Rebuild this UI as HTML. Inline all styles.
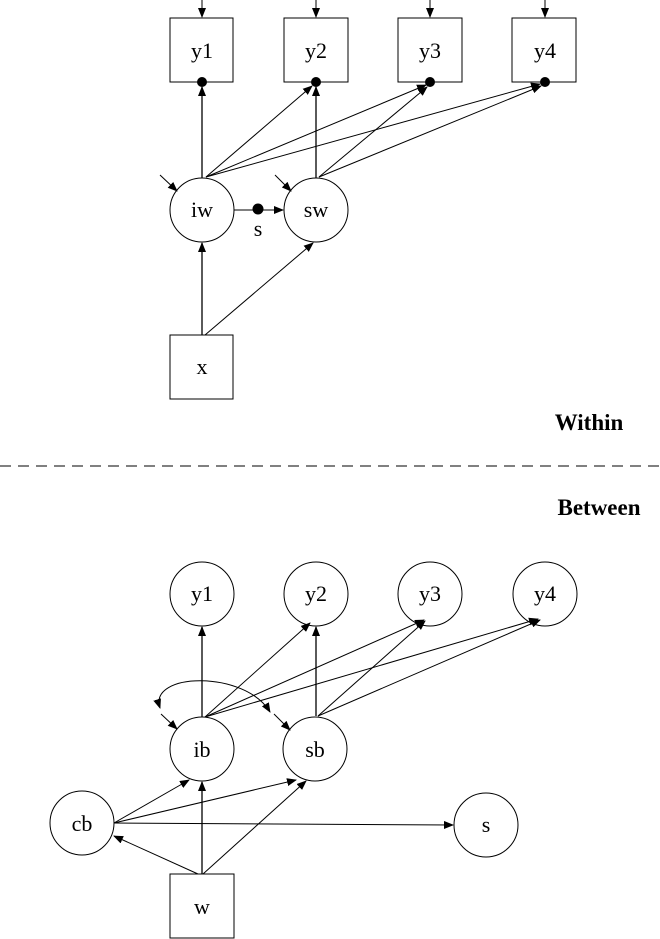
<!DOCTYPE html>
<html><head><style>body{margin:0;background:#fff}svg{display:block}text{font-family:"Liberation Serif",serif;font-size:22px;text-anchor:middle}</style></head><body>
<svg width="660" height="939" viewBox="0 0 660 939" xmlns="http://www.w3.org/2000/svg">
<defs><marker id="a" markerWidth="10" markerHeight="8" refX="9" refY="4" orient="auto-start-reverse" markerUnits="userSpaceOnUse"><path d="M0,0L10,4L0,8z" fill="#000"/></marker></defs>
<g stroke="#000" fill="none" stroke-width="1">
<rect x="170" y="18" width="63" height="64"/><rect x="284" y="18" width="64" height="64"/><rect x="398" y="18" width="64" height="64"/><rect x="512" y="18" width="64" height="64"/>
<line x1="202" y1="0" x2="202" y2="17" marker-end="url(#a)"/><line x1="316" y1="0" x2="316" y2="17" marker-end="url(#a)"/><line x1="430" y1="0" x2="430" y2="17" marker-end="url(#a)"/><line x1="545" y1="0" x2="545" y2="17" marker-end="url(#a)"/>
<circle cx="202" cy="210" r="32"/><circle cx="316" cy="210" r="32"/>
<rect x="170" y="335" width="63" height="64"/>
<line x1="202" y1="178" x2="202" y2="87" marker-end="url(#a)" stroke-width="1.3"/>
<line x1="206" y1="177" x2="312" y2="86" marker-end="url(#a)"/>
<line x1="206" y1="177" x2="426" y2="85" marker-end="url(#a)"/>
<line x1="206" y1="177" x2="540" y2="84" marker-end="url(#a)"/>
<line x1="316" y1="178" x2="316" y2="87" marker-end="url(#a)" stroke-width="1.3"/>
<line x1="319" y1="177" x2="427" y2="87" marker-end="url(#a)"/>
<line x1="319" y1="177" x2="541" y2="86" marker-end="url(#a)"/>
<line x1="160" y1="175" x2="177" y2="191" marker-end="url(#a)"/>
<line x1="275" y1="175" x2="291" y2="191" marker-end="url(#a)"/>
<line x1="234" y1="210" x2="283" y2="210" marker-end="url(#a)"/>
<line x1="202" y1="335" x2="202" y2="243" marker-end="url(#a)" stroke-width="1.3"/>
<line x1="205" y1="335" x2="313" y2="243" marker-end="url(#a)"/>
<line x1="0" y1="466" x2="660" y2="466" stroke-dasharray="11,7"/>
<circle cx="202" cy="594" r="32"/><circle cx="316" cy="594" r="32"/><circle cx="430" cy="594" r="32"/><circle cx="545" cy="594" r="32"/>
<circle cx="202" cy="749" r="32"/><circle cx="315" cy="749" r="32"/>
<circle cx="82" cy="823" r="32"/><circle cx="486" cy="825" r="32"/>
<rect x="170" y="874" width="64" height="64"/>
<line x1="202" y1="717" x2="202" y2="627" marker-end="url(#a)" stroke-width="1.3"/>
<line x1="205" y1="717" x2="310" y2="623" marker-end="url(#a)"/>
<line x1="205" y1="717" x2="424" y2="620" marker-end="url(#a)"/>
<line x1="205" y1="717" x2="538" y2="619" marker-end="url(#a)"/>
<line x1="316" y1="716" x2="316" y2="627" marker-end="url(#a)" stroke-width="1.3"/>
<line x1="318" y1="716" x2="425" y2="621" marker-end="url(#a)"/>
<line x1="318" y1="716" x2="540" y2="620" marker-end="url(#a)"/>
<path d="M160,708 C148,672 245,670 270,712" marker-start="url(#a)" marker-end="url(#a)"/>
<line x1="161" y1="714" x2="177" y2="729" marker-end="url(#a)"/>
<line x1="274" y1="714" x2="290" y2="730" marker-end="url(#a)"/>
<line x1="114" y1="823" x2="189" y2="780" marker-end="url(#a)"/>
<line x1="114" y1="823" x2="296" y2="780" marker-end="url(#a)"/>
<line x1="114" y1="823" x2="453" y2="825" marker-end="url(#a)"/>
<line x1="202" y1="874" x2="202" y2="782" marker-end="url(#a)" stroke-width="1.3"/>
<line x1="203" y1="874" x2="306" y2="781" marker-end="url(#a)"/>
<line x1="198" y1="874" x2="114" y2="836" marker-end="url(#a)"/>
</g>
<g fill="#000"><circle cx="202" cy="82" r="5"/><circle cx="316" cy="82" r="5"/><circle cx="430" cy="82" r="5"/><circle cx="545" cy="82" r="5"/><circle cx="258" cy="209" r="5.5"/></g>
<text x="202" y="58">y1</text><text x="316" y="58">y2</text><text x="430" y="58">y3</text><text x="545" y="58">y4</text>
<text x="202" y="217">iw</text><text x="316" y="217">sw</text><text x="258" y="236">s</text><text x="202" y="374">x</text>
<text x="589" y="430" style="font-weight:bold;font-size:23px">Within</text>
<text x="599" y="515" style="font-weight:bold;font-size:23px">Between</text>
<text x="202" y="601">y1</text><text x="316" y="601">y2</text><text x="430" y="601">y3</text><text x="545" y="601">y4</text>
<text x="202" y="757">ib</text><text x="315" y="757">sb</text><text x="82" y="831">cb</text><text x="486" y="832">s</text><text x="202" y="914">w</text>
</svg></body></html>
